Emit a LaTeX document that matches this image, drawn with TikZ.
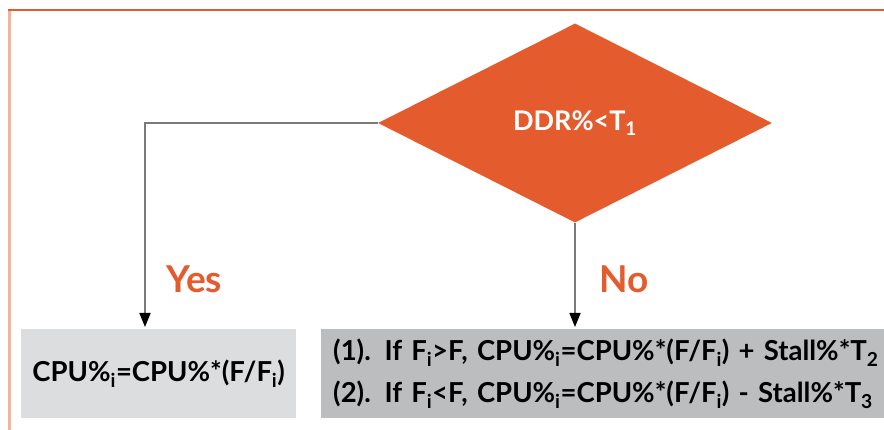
\documentclass[tikz,border=0pt]{standalone}
\usepackage{fontspec}
\setmainfont{Lato}
\usetikzlibrary{shapes.geometric,arrows.meta,positioning}
\definecolor{ddrorange}{HTML}{E45C2E}
\definecolor{framepink}{HTML}{F5B39C}
\definecolor{lightbox}{HTML}{DCDDDE}
\definecolor{darkbox}{HTML}{BCBDBF}
\definecolor{arrgray}{HTML}{7A7A7A}

\begin{document}
\begin{tikzpicture}[x=1pt,y=-1pt,
  decision/.style={diamond,fill=ddrorange,text=white,inner sep=0pt,
    minimum width=394pt,minimum height=199pt,
    font=\bfseries\fontsize{27}{27}\selectfont},
  result/.style={rectangle,inner sep=0pt,minimum height=89pt,
    font=\bfseries\fontsize{27.5}{42}\selectfont},
  answer/.style={anchor=base west,inner sep=0pt,text=ddrorange,
    font=\bfseries\fontsize{37}{37}\selectfont},
  flow/.style={arrgray,line width=1.6pt,
    -{Triangle[width=11pt,length=14pt,color=black]},shorten >=2pt}]
  \def\W{884}
  \def\H{430}

  \useasboundingbox (0,0) rectangle (\W,\H);
  \clip (0,0) rectangle (\W,\H);
  \fill[white] (0,0) rectangle (\W,\H);

  % frame
  \draw[framepink,line width=3pt] (9.5,10) -- (9.5,\H);
  \draw[ddrorange,line width=2.5pt] (8,10) -- (\W,10);

  \node[decision] (ddr) at (575,123) {DDR\%<T\textsubscript{1}};

  \node[result,fill=lightbox,minimum width=275pt,anchor=north west]
    (cpuyes) at (21,329) {CPU\%\textsubscript{i}=CPU\%*(F/F\textsubscript{i})};
  \node[result,fill=darkbox,minimum width=580pt,text width=556pt,
    inner xsep=12pt,align=left,anchor=north west] (cpuno) at (321,329)
    {(1). If F\textsubscript{i}>F, CPU\%\textsubscript{i}=CPU\%*(F/F\textsubscript{i}) + Stall\%*T\textsubscript{2}\\
     (2). If F\textsubscript{i}<F, CPU\%\textsubscript{i}=CPU\%*(F/F\textsubscript{i}) - Stall\%*T\textsubscript{3}};

  \node[answer] (yes) at (166,293) {Yes};
  \node[answer] (no) at (599,293) {No};

  \draw[flow] (ddr.west) -| ([xshift=124pt]cpuyes.north west);
  \draw[flow] (ddr.south) -- (ddr.south |- cpuno.north);
\end{tikzpicture}
\end{document}
